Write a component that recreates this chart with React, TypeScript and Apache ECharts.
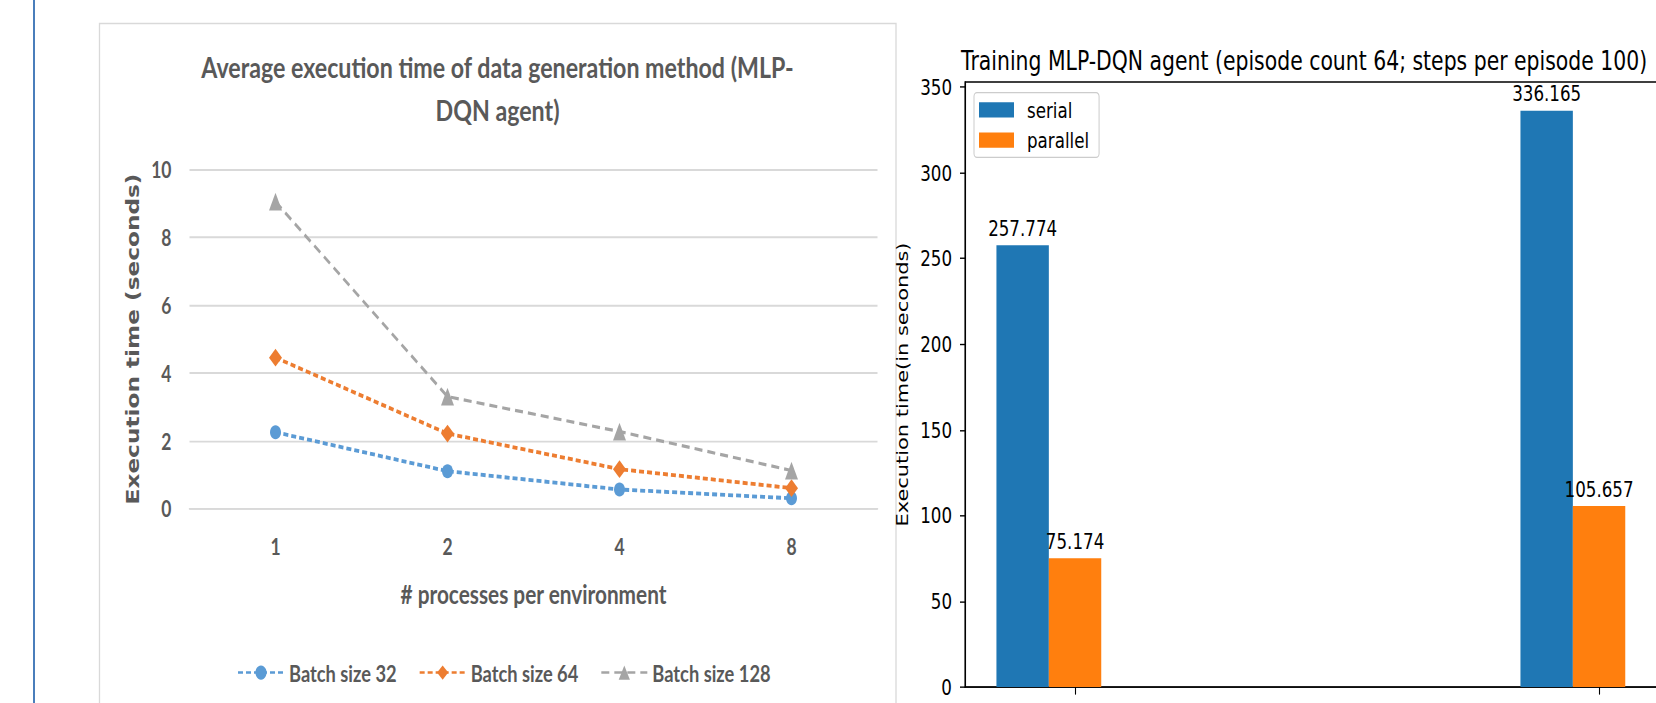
import React, { useEffect, useRef } from "react";
import * as echarts from "echarts";

// ---------- data: left chart ----------
const processCounts = ["1", "2", "4", "8"];
const batch32 = [2.25, 1.1, 0.56, 0.3];
const batch64 = [4.45, 2.21, 1.16, 0.6];
const batch128 = [9.05, 3.3, 2.27, 1.12];
const seriesNames1 = ["Batch size 32", "Batch size 64", "Batch size 128"];

// ---------- data: right chart ----------
const groupPositions = [0, 1];
const serialTimes = [257.774, 336.165];
const parallelTimes = [75.174, 105.657];
const yTicks2 = [0, 50, 100, 150, 200, 250, 300, 350];
const seriesNames2 = ["serial", "parallel"];

const W = 1656;
const H = 554;
const SCALE_Y = 703 / H;

const EXCEL_FONT = "Lato, 'Liberation Sans', sans-serif";
const MPL_FONT = "'DejaVu Sans', sans-serif";
const GREY_TEXT = "#595959";

// right chart geometry
const G2_LEFT = 965;
const G2_RIGHT_EDGE = 1656.7;
const X2_MIN = -0.21;
const X2_MAX = 1.11;
const BAR_UNITS = 0.1;
const barPx = (BAR_UNITS * (G2_RIGHT_EDGE - G2_LEFT)) / (X2_MAX - X2_MIN);

export default function App() {
  const ref = useRef<HTMLDivElement>(null);
  useEffect(() => {
    if (!ref.current) return;
    const chart = echarts.init(ref.current, null, { renderer: "svg", width: W, height: H });
    const option: any = {
      animation: false,
      backgroundColor: "#ffffff",
      title: [
        {
          text: "Average execution time of data generation method (MLP-\nDQN agent)",
          left: 497.5,
          top: 36,
          textAlign: "center",
          padding: 0,
          textStyle: {
            fontFamily: EXCEL_FONT,
            fontSize: 23.2,
            fontWeight: "bold",
            color: GREY_TEXT,
            lineHeight: 34,
          },
        },
        {
          text: "Training MLP-DQN agent (episode count 64; steps per episode 100)",
          left: 961,
          top: 36,
          textAlign: "left",
          padding: 0,
          textStyle: {
            fontFamily: MPL_FONT,
            fontSize: 20.4,
            fontWeight: "normal",
            color: "#000",
            lineHeight: 24,
          },
        },
      ],
      graphic: [
        {
          type: "line",
          shape: { x1: 34, y1: 0, x2: 34, y2: H },
          style: { stroke: "#4a7ebb", lineWidth: 2 },
        },
        {
          type: "rect",
          shape: { x: 99.5, y: 18.5, width: 796.5, height: 700 },
          style: { fill: "none", stroke: "#d9d9d9", lineWidth: 1.3 },
        },
      ],
      legend: [
        {
          data: seriesNames1,
          left: 232,
          top: 516,
          itemWidth: 46,
          itemHeight: 14,
          itemGap: 22,
          textStyle: { fontFamily: EXCEL_FONT, fontSize: 18.3, fontWeight: "bold", color: GREY_TEXT },
        },
        {
          data: seriesNames2,
          orient: "vertical",
          left: 974,
          top: 73,
          itemWidth: 35,
          itemHeight: 12,
          itemGap: 7,
          icon: "rect",
          padding: [5, 10, 5, 5],
          backgroundColor: "rgba(255,255,255,0.8)",
          borderColor: "#cccccc",
          borderWidth: 1,
          borderRadius: 3,
          textStyle: {
            fontFamily: MPL_FONT,
            fontSize: 16.7,
            color: "#000",
            padding: [0, 0, 0, 8],
          },
        },
      ],
      grid: [
        {
          left: 189.5,
          right: W - 877.5,
          top: 133.6,
          bottom: H - 400.7,
          containLabel: false,
          outerBoundsMode: "none",
        },
        {
          left: G2_LEFT,
          right: W - G2_RIGHT_EDGE,
          top: 64.6,
          bottom: H - 541.4,
          containLabel: false,
          outerBoundsMode: "none",
          show: true,
          borderColor: "#000",
          borderWidth: 1.1,
          backgroundColor: "transparent",
        },
      ],
      xAxis: [
        {
          gridIndex: 0,
          type: "category",
          data: processCounts,
          boundaryGap: true,
          axisLine: { show: true, lineStyle: { color: "#d9d9d9", width: 1.5 } },
          axisTick: { show: false },
          axisLabel: { margin: 21, fontFamily: EXCEL_FONT, fontSize: 17.5, fontWeight: "bold", color: GREY_TEXT },
          name: "# processes per environment",
          nameLocation: "middle",
          nameGap: 57,
          nameTextStyle: { fontFamily: EXCEL_FONT, fontSize: 20.8, fontWeight: "bold", color: GREY_TEXT },
        },
        {
          gridIndex: 1,
          type: "value",
          min: X2_MIN,
          max: X2_MAX,
          axisLine: { show: true, onZero: false, lineStyle: { color: "#000", width: 1.1 } },
          axisTick: { show: true, inside: false, length: 6, customValues: groupPositions, lineStyle: { color: "#000", width: 1.1 } },
          axisLabel: { show: false },
          splitLine: { show: false },
        },
      ],
      yAxis: [
        {
          gridIndex: 0,
          type: "value",
          min: 0,
          max: 10,
          interval: 2,
          axisLine: { show: false },
          axisTick: { show: false },
          axisLabel: { margin: 18, fontFamily: EXCEL_FONT, fontSize: 17.5, fontWeight: "bold", color: GREY_TEXT },
          splitLine: { lineStyle: { color: "#d9d9d9", width: 1.5 } },
          name: "Execution time (seconds)",
          nameLocation: "middle",
          nameGap: 47.5,
          nameTextStyle: { fontFamily: MPL_FONT, fontSize: 18.3, fontWeight: "bold", color: GREY_TEXT },
        },
        {
          gridIndex: 1,
          type: "value",
          min: 0,
          max: 336.165 * 1.05,
          axisLine: { show: true, onZero: false, lineStyle: { color: "#000", width: 1.1 } },
          axisTick: { show: true, inside: false, length: 5, customValues: yTicks2, lineStyle: { color: "#000", width: 1.1 } },
          axisLabel: { margin: 13, customValues: yTicks2, fontFamily: MPL_FONT, fontSize: 16.7, color: "#000" },
          splitLine: { show: false },
          name: "Execution time(in seconds)",
          nameLocation: "middle",
          nameGap: 54.5,
          nameTextStyle: { fontFamily: MPL_FONT, fontSize: 16.5, color: "#000" },
        },
      ],
      series: [
        {
          name: seriesNames1[0],
          type: "line",
          xAxisIndex: 0,
          yAxisIndex: 0,
          data: batch32,
          symbol: "circle",
          symbolSize: 11,
          color: "#5b9bd5",
          lineStyle: { color: "#5b9bd5", width: 3, type: [5, 3] },
          itemStyle: { color: "#5b9bd5" },
        },
        {
          name: seriesNames1[1],
          type: "line",
          xAxisIndex: 0,
          yAxisIndex: 0,
          data: batch64,
          symbol: "diamond",
          symbolSize: [13, 14],
          color: "#ed7d31",
          lineStyle: { color: "#ed7d31", width: 3, type: [5, 3] },
          itemStyle: { color: "#ed7d31" },
        },
        {
          name: seriesNames1[2],
          type: "line",
          xAxisIndex: 0,
          yAxisIndex: 0,
          data: batch128,
          symbol: "triangle",
          symbolSize: [13, 14],
          color: "#a5a5a5",
          lineStyle: { color: "#a5a5a5", width: 2.5, type: [8, 5] },
          itemStyle: { color: "#a5a5a5" },
        },
        {
          name: seriesNames2[0],
          type: "bar",
          xAxisIndex: 1,
          yAxisIndex: 1,
          data: groupPositions.map((p, i) => [p - BAR_UNITS, serialTimes[i]]),
          barWidth: barPx,
          barGap: "-100%",
          color: "#1f77b4",
          itemStyle: { color: "#1f77b4" },
          label: {
            show: true,
            position: "top",
            distance: 5,
            fontFamily: MPL_FONT,
            fontSize: 16.7,
            color: "#000",
            formatter: (p: any) => String(p.value[1]),
          },
        },
        {
          name: seriesNames2[1],
          type: "bar",
          xAxisIndex: 1,
          yAxisIndex: 1,
          data: groupPositions.map((p, i) => [p, parallelTimes[i]]),
          barWidth: barPx,
          barGap: "-100%",
          color: "#ff7f0e",
          itemStyle: { color: "#ff7f0e" },
          label: {
            show: true,
            position: "top",
            distance: 5,
            fontFamily: MPL_FONT,
            fontSize: 16.7,
            color: "#000",
            formatter: (p: any) => String(p.value[1]),
          },
        },
      ],
    };
    chart.setOption(option);
    return () => chart.dispose();
  }, []);

  return (
    <div
      ref={ref}
      style={{
        position: "absolute",
        left: 0,
        top: 0,
        width: W,
        height: H,
        transform: `scaleY(${SCALE_Y})`,
        transformOrigin: "0 0",
        background: "#fff",
      }}
    />
  );
}
